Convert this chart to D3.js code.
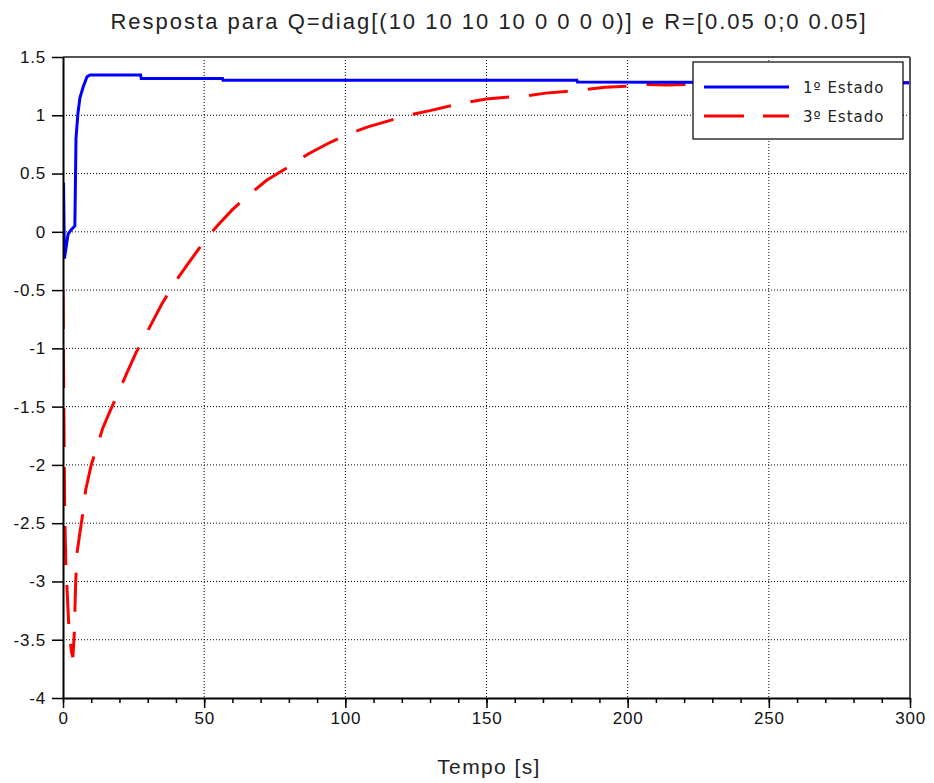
<!DOCTYPE html>
<html>
<head>
<meta charset="utf-8">
<script src="https://cdn.jsdelivr.net/npm/d3@7"></script>
<style>
  body { margin: 0; background: #fff; }
  svg { display: block; }
  .lab { font-family: "Liberation Sans", Arial, sans-serif; }
  .grid line { stroke: #000; stroke-width: 1; stroke-dasharray: 1,2; }
</style>
</head>
<body>
<svg width="934" height="783"></svg>
<script>
// values
var xTicks = [0, 50, 100, 150, 200, 250, 300];
var yTicks = [-4, -3.5, -3, -2.5, -2, -1.5, -1, -0.5, 0, 0.5, 1, 1.5];

var estado1T = [0, 0.1, 0.2, 0.5, 1, 1.8, 3, 4.2, 4.4, 4.6, 5.3, 6, 7.1, 8.5, 9.6, 27.5, 27.7, 56.5, 56.7, 182, 182.2, 300];
var estado1V = [0.28, 0.12, 0.42, -0.23, -0.15, -0.02, 0.02, 0.05, 0.42, 0.8, 1.02, 1.15, 1.24, 1.33, 1.345, 1.345, 1.316, 1.316, 1.30, 1.30, 1.285, 1.28];

var estado3T = [0, 0.3, 0.6, 1, 1.5, 2, 2.5, 3, 3.5, 4, 4.5, 5, 6, 7, 8, 10, 12, 14, 17, 20, 23, 26, 30, 35, 40, 45, 51, 55, 60, 66, 72, 80, 87, 94, 101, 108, 115, 122, 130, 137, 143, 150, 157, 165, 171, 178, 185, 192, 200, 207, 214, 230, 250, 275, 300];
var estado3V = [-0.5, -1.5, -2.4, -2.85, -3.1, -3.35, -3.5, -3.6, -3.65, -3.45, -3.0, -2.75, -2.58, -2.42, -2.22, -2.0, -1.85, -1.69, -1.52, -1.36, -1.19, -1.03, -0.85, -0.62, -0.42, -0.25, -0.05, 0.06, 0.19, 0.32, 0.44, 0.56, 0.67, 0.76, 0.84, 0.9, 0.95, 1.0, 1.04, 1.08, 1.11, 1.14, 1.155, 1.17, 1.19, 1.205, 1.22, 1.24, 1.25, 1.265, 1.26, 1.27, 1.275, 1.28, 1.28];

var seriesNames = ["1\u00BA Estado", "3\u00BA Estado"];
var seriesColors = ["#0000ff", "#ff0000"];

var svg = d3.select("svg");
var pLeft = 63, pRight = 910, pTop = 57, pBottom = 698;

var x = d3.scaleLinear().domain([0, 300]).range([pLeft, pRight]);
var y = d3.scaleLinear().domain([-4, 1.5]).range([pBottom, pTop]);

svg.append("text").attr("class", "lab")
  .attr("x", 489).attr("y", 29)
  .attr("text-anchor", "middle")
  .style("font-size", "22px").style("letter-spacing", "2px").style("fill", "#222")
  .text("Resposta para Q=diag[(10 10 10 10 0 0 0 0)] e R=[0.05 0;0 0.05]");

// grid
var grid = svg.append("g").attr("class", "grid");
grid.selectAll(".gx").data(xTicks.slice(1, -1)).enter().append("line")
  .attr("x1", function(d) { return x(d); }).attr("x2", function(d) { return x(d); })
  .attr("y1", pTop).attr("y2", pBottom);
grid.selectAll(".gy").data(yTicks.slice(1, -1)).enter().append("line")
  .attr("y1", function(d) { return y(d); }).attr("y2", function(d) { return y(d); })
  .attr("x1", pLeft).attr("x2", pRight);

// curves
svg.append("clipPath").attr("id", "clip").append("rect")
  .attr("x", pLeft).attr("y", pTop).attr("width", pRight - pLeft).attr("height", pBottom - pTop);

var line = d3.line().x(function(d) { return x(d[0]); }).y(function(d) { return y(d[1]); });

svg.append("path").attr("clip-path", "url(#clip)")
  .datum(d3.zip(estado3T, estado3V))
  .attr("d", line)
  .attr("fill", "none").attr("stroke", seriesColors[1]).attr("stroke-width", 3)
  .attr("stroke-dasharray", "39,20");

svg.append("path").attr("clip-path", "url(#clip)")
  .datum(d3.zip(estado1T, estado1V))
  .attr("d", line)
  .attr("fill", "none").attr("stroke", seriesColors[0]).attr("stroke-width", 3);

// box top / right
svg.append("line").attr("x1", pLeft).attr("x2", pRight).attr("y1", pTop).attr("y2", pTop)
  .attr("stroke", "#555").attr("stroke-width", 2);
svg.append("line").attr("x1", pRight).attr("x2", pRight).attr("y1", pTop).attr("y2", pBottom)
  .attr("stroke", "#555").attr("stroke-width", 2);

// axes
var xMinor = svg.append("g").attr("transform", "translate(0," + pBottom + ")")
  .call(d3.axisBottom(x).ticks(30).tickSize(5).tickFormat(""));
xMinor.select(".domain").remove();

svg.append("g").attr("class", "lab").attr("transform", "translate(0," + pBottom + ")")
  .call(d3.axisBottom(x).tickValues(xTicks).tickSize(10).tickPadding(4).tickSizeOuter(0)
    .tickFormat(function(d) { return d; }));

svg.append("g").attr("class", "lab").attr("transform", "translate(" + pLeft + ",0)")
  .call(d3.axisLeft(y).tickValues(yTicks).tickSize(11).tickPadding(6).tickSizeOuter(0)
    .tickFormat(function(d) { return String(d); }));

svg.selectAll(".tick line").attr("stroke", "#000").attr("stroke-width", 1.5);
svg.selectAll(".domain").attr("stroke", "#000").attr("stroke-width", 2);
svg.selectAll(".lab .tick text").style("font-family", "'Liberation Sans', Arial, sans-serif")
  .style("font-size", "17px").style("letter-spacing", "0.8px").style("fill", "#111");

svg.append("text").attr("class", "lab")
  .attr("x", 489).attr("y", 774)
  .attr("text-anchor", "middle")
  .style("font-size", "21px").style("letter-spacing", "1.4px").style("fill", "#222")
  .text("Tempo [s]");

// legend
var lg = svg.append("g");
lg.append("rect").attr("x", 693).attr("y", 62).attr("width", 210).attr("height", 77)
  .attr("fill", "#fff").attr("stroke", "#000").attr("stroke-width", 1.2);
var rows = lg.selectAll(".row").data(seriesNames).enter().append("g")
  .attr("transform", function(d, i) { return "translate(0," + (87 + i * 29) + ")"; });
rows.append("line").attr("x1", 704).attr("x2", 789).attr("y1", 0).attr("y2", 0)
  .attr("stroke", function(d, i) { return seriesColors[i]; })
  .attr("stroke-width", 3)
  .attr("stroke-dasharray", function(d, i) { return i === 1 ? "40,19" : null; });
rows.append("text").attr("x", 803).attr("y", 6)
  .style("font-family", "'DejaVu Sans', sans-serif").style("font-size", "15px")
  .style("letter-spacing", "1px").style("fill", "#222")
  .text(function(d) { return d; });
</script>
</body>
</html>
